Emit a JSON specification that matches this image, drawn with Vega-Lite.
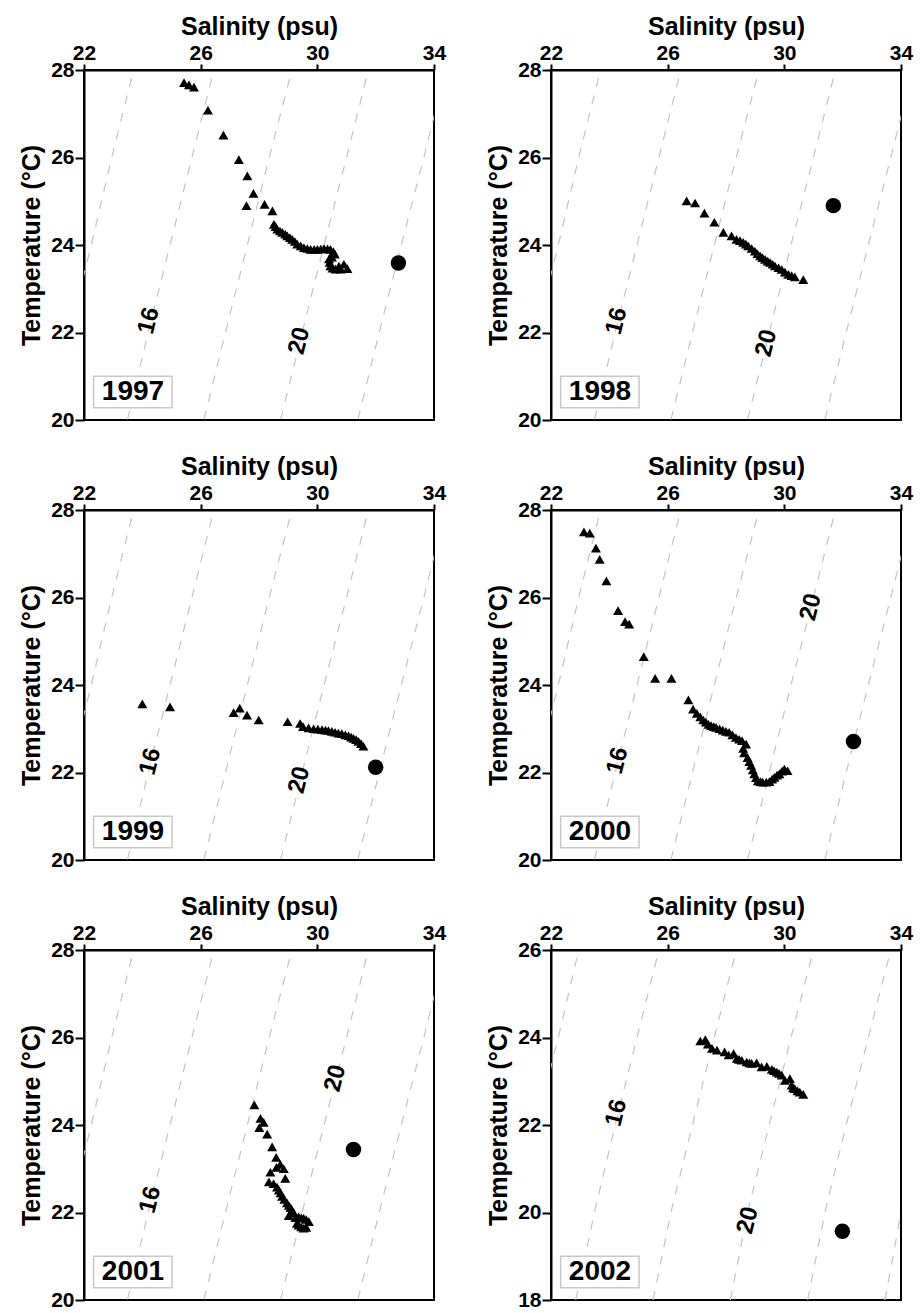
{
  "$schema": "https://vega.github.io/schema/vega-lite/v6.json",
  "padding": {"left": 18, "top": 13, "right": 0, "bottom": 0},
  "background": "white",
  "columns": 2,
  "spacing": {"row": 22, "column": 38},
  "config": {
    "font": "Liberation Sans",
    "view": {"stroke": "black", "strokeWidth": 2},
    "axis": {
      "grid": false, "domainColor": "black", "domainWidth": 2,
      "tickColor": "black", "tickWidth": 2,
      "labelColor": "black", "titleColor": "black",
      "labelFont": "Liberation Sans", "titleFont": "Liberation Sans",
      "labelFontWeight": "bold", "titleFontWeight": "bold",
      "labelFontSize": 21, "titleFontSize": 25,
      "labelFlush": false, "labelOverlap": false
    },
    "axisX": {"tickSize": 6, "labelPadding": 1, "titlePadding": 3},
    "axisY": {"tickSize": 9, "labelPadding": 1, "titlePadding": 6}
  },
  "datasets": {
    "iso": [
      {"sigma": 14, "S": 20.2, "T": 18}, {"sigma": 14, "S": 20.8, "T": 20}, {"sigma": 14, "S": 21.5, "T": 22}, {"sigma": 14, "S": 22.25, "T": 24}, {"sigma": 14, "S": 22.95, "T": 26}, {"sigma": 14, "S": 23.7, "T": 28},
      {"sigma": 16, "S": 22.85, "T": 18}, {"sigma": 16, "S": 23.49, "T": 20}, {"sigma": 16, "S": 24.2, "T": 22}, {"sigma": 16, "S": 24.95, "T": 24}, {"sigma": 16, "S": 25.7, "T": 26}, {"sigma": 16, "S": 26.45, "T": 28},
      {"sigma": 18, "S": 25.5, "T": 18}, {"sigma": 18, "S": 26.11, "T": 20}, {"sigma": 18, "S": 26.85, "T": 22}, {"sigma": 18, "S": 27.6, "T": 24}, {"sigma": 18, "S": 28.35, "T": 26}, {"sigma": 18, "S": 29.13, "T": 28},
      {"sigma": 20, "S": 28.15, "T": 18}, {"sigma": 20, "S": 28.74, "T": 20}, {"sigma": 20, "S": 29.48, "T": 22}, {"sigma": 20, "S": 30.23, "T": 24}, {"sigma": 20, "S": 31.0, "T": 26}, {"sigma": 20, "S": 31.75, "T": 28},
      {"sigma": 22, "S": 30.8, "T": 18}, {"sigma": 22, "S": 31.39, "T": 20}, {"sigma": 22, "S": 32.12, "T": 22}, {"sigma": 22, "S": 32.88, "T": 24}, {"sigma": 22, "S": 33.65, "T": 26}, {"sigma": 22, "S": 34.4, "T": 28},
      {"sigma": 24, "S": 33.45, "T": 18}, {"sigma": 24, "S": 34.0, "T": 20}, {"sigma": 24, "S": 34.75, "T": 22}
    ],
    "lab": [
      {"year": 1997, "label": "16", "S": 24.23, "T": 22.27}, {"year": 1997, "label": "20", "S": 29.39, "T": 21.81},
      {"year": 1998, "label": "16", "S": 24.25, "T": 22.26}, {"year": 1998, "label": "20", "S": 29.39, "T": 21.76},
      {"year": 1999, "label": "16", "S": 24.28, "T": 22.25}, {"year": 1999, "label": "20", "S": 29.39, "T": 21.83},
      {"year": 2000, "label": "16", "S": 24.29, "T": 22.27}, {"year": 2000, "label": "20", "S": 30.91, "T": 25.78},
      {"year": 2001, "label": "16", "S": 24.28, "T": 22.29}, {"year": 2001, "label": "20", "S": 30.62, "T": 25.07},
      {"year": 2002, "label": "16", "S": 24.24, "T": 22.28}, {"year": 2002, "label": "20", "S": 28.75, "T": 19.82}
    ],
    "ts": [
      {"year": 1997, "kind": "tri", "S": 25.43, "T": 27.71}, {"year": 1997, "kind": "tri", "S": 25.6, "T": 27.66}, {"year": 1997, "kind": "tri", "S": 25.77, "T": 27.61},
      {"year": 1997, "kind": "tri", "S": 26.25, "T": 27.08}, {"year": 1997, "kind": "tri", "S": 26.78, "T": 26.51}, {"year": 1997, "kind": "tri", "S": 27.31, "T": 25.95},
      {"year": 1997, "kind": "tri", "S": 27.6, "T": 25.58}, {"year": 1997, "kind": "tri", "S": 27.81, "T": 25.18}, {"year": 1997, "kind": "tri", "S": 27.57, "T": 24.9},
      {"year": 1997, "kind": "tri", "S": 28.19, "T": 24.93}, {"year": 1997, "kind": "tri", "S": 28.46, "T": 24.78}, {"year": 1997, "kind": "tri", "S": 28.51, "T": 24.47},
      {"year": 1997, "kind": "tri", "S": 28.57, "T": 24.42}, {"year": 1997, "kind": "tri", "S": 28.63, "T": 24.36}, {"year": 1997, "kind": "tri", "S": 28.72, "T": 24.32},
      {"year": 1997, "kind": "tri", "S": 28.8, "T": 24.29}, {"year": 1997, "kind": "tri", "S": 28.9, "T": 24.25}, {"year": 1997, "kind": "tri", "S": 28.97, "T": 24.21},
      {"year": 1997, "kind": "tri", "S": 29.06, "T": 24.17}, {"year": 1997, "kind": "tri", "S": 29.14, "T": 24.13}, {"year": 1997, "kind": "tri", "S": 29.23, "T": 24.08},
      {"year": 1997, "kind": "tri", "S": 29.31, "T": 24.02}, {"year": 1997, "kind": "tri", "S": 29.43, "T": 23.98}, {"year": 1997, "kind": "tri", "S": 29.54, "T": 23.94},
      {"year": 1997, "kind": "tri", "S": 29.66, "T": 23.92}, {"year": 1997, "kind": "tri", "S": 29.77, "T": 23.9}, {"year": 1997, "kind": "tri", "S": 29.89, "T": 23.9},
      {"year": 1997, "kind": "tri", "S": 30.0, "T": 23.9}, {"year": 1997, "kind": "tri", "S": 30.12, "T": 23.91}, {"year": 1997, "kind": "tri", "S": 30.23, "T": 23.92},
      {"year": 1997, "kind": "tri", "S": 30.35, "T": 23.91}, {"year": 1997, "kind": "tri", "S": 30.45, "T": 23.9}, {"year": 1997, "kind": "tri", "S": 30.55, "T": 23.85},
      {"year": 1997, "kind": "tri", "S": 30.6, "T": 23.79}, {"year": 1997, "kind": "tri", "S": 30.5, "T": 23.72}, {"year": 1997, "kind": "tri", "S": 30.4, "T": 23.68},
      {"year": 1997, "kind": "tri", "S": 30.42, "T": 23.6}, {"year": 1997, "kind": "tri", "S": 30.45, "T": 23.52}, {"year": 1997, "kind": "tri", "S": 30.52, "T": 23.47},
      {"year": 1997, "kind": "tri", "S": 30.62, "T": 23.45}, {"year": 1997, "kind": "tri", "S": 30.74, "T": 23.52}, {"year": 1997, "kind": "tri", "S": 30.8, "T": 23.45},
      {"year": 1997, "kind": "tri", "S": 30.91, "T": 23.56}, {"year": 1997, "kind": "tri", "S": 31.03, "T": 23.46},
      {"year": 1997, "kind": "circle", "S": 32.78, "T": 23.59},

      {"year": 1998, "kind": "tri", "S": 26.65, "T": 25.01}, {"year": 1998, "kind": "tri", "S": 26.94, "T": 24.96}, {"year": 1998, "kind": "tri", "S": 27.26, "T": 24.73},
      {"year": 1998, "kind": "tri", "S": 27.6, "T": 24.52}, {"year": 1998, "kind": "tri", "S": 27.91, "T": 24.29}, {"year": 1998, "kind": "tri", "S": 28.19, "T": 24.21},
      {"year": 1998, "kind": "tri", "S": 28.36, "T": 24.13}, {"year": 1998, "kind": "tri", "S": 28.48, "T": 24.1}, {"year": 1998, "kind": "tri", "S": 28.59, "T": 24.06},
      {"year": 1998, "kind": "tri", "S": 28.68, "T": 24.02}, {"year": 1998, "kind": "tri", "S": 28.76, "T": 23.98}, {"year": 1998, "kind": "tri", "S": 28.88, "T": 23.92},
      {"year": 1998, "kind": "tri", "S": 28.99, "T": 23.86}, {"year": 1998, "kind": "tri", "S": 29.08, "T": 23.8}, {"year": 1998, "kind": "tri", "S": 29.17, "T": 23.75},
      {"year": 1998, "kind": "tri", "S": 29.25, "T": 23.71}, {"year": 1998, "kind": "tri", "S": 29.34, "T": 23.67}, {"year": 1998, "kind": "tri", "S": 29.43, "T": 23.63},
      {"year": 1998, "kind": "tri", "S": 29.51, "T": 23.6}, {"year": 1998, "kind": "tri", "S": 29.6, "T": 23.56}, {"year": 1998, "kind": "tri", "S": 29.68, "T": 23.52},
      {"year": 1998, "kind": "tri", "S": 29.8, "T": 23.48}, {"year": 1998, "kind": "tri", "S": 29.91, "T": 23.44}, {"year": 1998, "kind": "tri", "S": 30.02, "T": 23.38},
      {"year": 1998, "kind": "tri", "S": 30.14, "T": 23.33}, {"year": 1998, "kind": "tri", "S": 30.25, "T": 23.3}, {"year": 1998, "kind": "tri", "S": 30.36, "T": 23.27},
      {"year": 1998, "kind": "tri", "S": 30.65, "T": 23.21},
      {"year": 1998, "kind": "circle", "S": 31.68, "T": 24.9},

      {"year": 1999, "kind": "tri", "S": 24.0, "T": 23.57}, {"year": 1999, "kind": "tri", "S": 24.95, "T": 23.5}, {"year": 1999, "kind": "tri", "S": 27.13, "T": 23.37},
      {"year": 1999, "kind": "tri", "S": 27.34, "T": 23.47}, {"year": 1999, "kind": "tri", "S": 27.59, "T": 23.31}, {"year": 1999, "kind": "tri", "S": 27.99, "T": 23.2},
      {"year": 1999, "kind": "tri", "S": 28.98, "T": 23.16}, {"year": 1999, "kind": "tri", "S": 29.41, "T": 23.12}, {"year": 1999, "kind": "tri", "S": 29.51, "T": 23.05},
      {"year": 1999, "kind": "tri", "S": 29.7, "T": 23.02}, {"year": 1999, "kind": "tri", "S": 29.87, "T": 23.0}, {"year": 1999, "kind": "tri", "S": 30.02, "T": 22.99},
      {"year": 1999, "kind": "tri", "S": 30.16, "T": 22.98}, {"year": 1999, "kind": "tri", "S": 30.28, "T": 22.97}, {"year": 1999, "kind": "tri", "S": 30.38, "T": 22.96},
      {"year": 1999, "kind": "tri", "S": 30.5, "T": 22.94}, {"year": 1999, "kind": "tri", "S": 30.61, "T": 22.92}, {"year": 1999, "kind": "tri", "S": 30.72, "T": 22.9},
      {"year": 1999, "kind": "tri", "S": 30.84, "T": 22.89}, {"year": 1999, "kind": "tri", "S": 30.96, "T": 22.86}, {"year": 1999, "kind": "tri", "S": 31.07, "T": 22.84},
      {"year": 1999, "kind": "tri", "S": 31.16, "T": 22.81}, {"year": 1999, "kind": "tri", "S": 31.24, "T": 22.78}, {"year": 1999, "kind": "tri", "S": 31.33, "T": 22.75},
      {"year": 1999, "kind": "tri", "S": 31.41, "T": 22.71}, {"year": 1999, "kind": "tri", "S": 31.5, "T": 22.66}, {"year": 1999, "kind": "tri", "S": 31.58, "T": 22.6},
      {"year": 1999, "kind": "circle", "S": 32.0, "T": 22.12},

      {"year": 2000, "kind": "tri", "S": 23.13, "T": 27.5}, {"year": 2000, "kind": "tri", "S": 23.33, "T": 27.47}, {"year": 2000, "kind": "tri", "S": 23.54, "T": 27.13},
      {"year": 2000, "kind": "tri", "S": 23.67, "T": 26.87}, {"year": 2000, "kind": "tri", "S": 23.9, "T": 26.38}, {"year": 2000, "kind": "tri", "S": 24.3, "T": 25.7},
      {"year": 2000, "kind": "tri", "S": 24.54, "T": 25.45}, {"year": 2000, "kind": "tri", "S": 24.68, "T": 25.39}, {"year": 2000, "kind": "tri", "S": 25.18, "T": 24.65},
      {"year": 2000, "kind": "tri", "S": 25.57, "T": 24.15}, {"year": 2000, "kind": "tri", "S": 26.13, "T": 24.15}, {"year": 2000, "kind": "tri", "S": 26.71, "T": 23.66},
      {"year": 2000, "kind": "tri", "S": 26.87, "T": 23.45}, {"year": 2000, "kind": "tri", "S": 27.0, "T": 23.35}, {"year": 2000, "kind": "tri", "S": 27.12, "T": 23.27},
      {"year": 2000, "kind": "tri", "S": 27.22, "T": 23.2}, {"year": 2000, "kind": "tri", "S": 27.31, "T": 23.15}, {"year": 2000, "kind": "tri", "S": 27.4, "T": 23.1},
      {"year": 2000, "kind": "tri", "S": 27.49, "T": 23.07}, {"year": 2000, "kind": "tri", "S": 27.58, "T": 23.05}, {"year": 2000, "kind": "tri", "S": 27.66, "T": 23.03},
      {"year": 2000, "kind": "tri", "S": 27.78, "T": 23.0}, {"year": 2000, "kind": "tri", "S": 27.89, "T": 22.97}, {"year": 2000, "kind": "tri", "S": 28.0, "T": 22.94},
      {"year": 2000, "kind": "tri", "S": 28.11, "T": 22.92}, {"year": 2000, "kind": "tri", "S": 28.22, "T": 22.86}, {"year": 2000, "kind": "tri", "S": 28.34, "T": 22.8},
      {"year": 2000, "kind": "tri", "S": 28.45, "T": 22.76}, {"year": 2000, "kind": "tri", "S": 28.55, "T": 22.73}, {"year": 2000, "kind": "tri", "S": 28.69, "T": 22.65},
      {"year": 2000, "kind": "tri", "S": 28.59, "T": 22.55}, {"year": 2000, "kind": "tri", "S": 28.62, "T": 22.45}, {"year": 2000, "kind": "tri", "S": 28.74, "T": 22.34},
      {"year": 2000, "kind": "tri", "S": 28.8, "T": 22.25}, {"year": 2000, "kind": "tri", "S": 28.86, "T": 22.16}, {"year": 2000, "kind": "tri", "S": 28.92, "T": 22.06},
      {"year": 2000, "kind": "tri", "S": 28.97, "T": 21.97}, {"year": 2000, "kind": "tri", "S": 29.03, "T": 21.88}, {"year": 2000, "kind": "tri", "S": 29.09, "T": 21.81},
      {"year": 2000, "kind": "tri", "S": 29.18, "T": 21.79}, {"year": 2000, "kind": "tri", "S": 29.26, "T": 21.78}, {"year": 2000, "kind": "tri", "S": 29.38, "T": 21.78},
      {"year": 2000, "kind": "tri", "S": 29.49, "T": 21.79}, {"year": 2000, "kind": "tri", "S": 29.58, "T": 21.85}, {"year": 2000, "kind": "tri", "S": 29.66, "T": 21.89},
      {"year": 2000, "kind": "tri", "S": 29.75, "T": 21.94}, {"year": 2000, "kind": "tri", "S": 29.83, "T": 21.97}, {"year": 2000, "kind": "tri", "S": 29.92, "T": 22.03},
      {"year": 2000, "kind": "tri", "S": 30.0, "T": 22.08}, {"year": 2000, "kind": "tri", "S": 30.11, "T": 22.04},
      {"year": 2000, "kind": "circle", "S": 32.37, "T": 22.71},

      {"year": 2001, "kind": "tri", "S": 27.84, "T": 24.46}, {"year": 2001, "kind": "tri", "S": 28.05, "T": 24.15}, {"year": 2001, "kind": "tri", "S": 28.16, "T": 24.06},
      {"year": 2001, "kind": "tri", "S": 28.01, "T": 23.94}, {"year": 2001, "kind": "tri", "S": 28.28, "T": 23.79}, {"year": 2001, "kind": "tri", "S": 28.45, "T": 23.5},
      {"year": 2001, "kind": "tri", "S": 28.59, "T": 23.26}, {"year": 2001, "kind": "tri", "S": 28.73, "T": 23.1}, {"year": 2001, "kind": "tri", "S": 28.6, "T": 23.03},
      {"year": 2001, "kind": "tri", "S": 28.39, "T": 22.92}, {"year": 2001, "kind": "tri", "S": 28.85, "T": 23.0}, {"year": 2001, "kind": "tri", "S": 28.9, "T": 22.78},
      {"year": 2001, "kind": "tri", "S": 28.34, "T": 22.7}, {"year": 2001, "kind": "tri", "S": 28.5, "T": 22.66}, {"year": 2001, "kind": "tri", "S": 28.62, "T": 22.58},
      {"year": 2001, "kind": "tri", "S": 28.68, "T": 22.51}, {"year": 2001, "kind": "tri", "S": 28.74, "T": 22.45}, {"year": 2001, "kind": "tri", "S": 28.79, "T": 22.37},
      {"year": 2001, "kind": "tri", "S": 28.87, "T": 22.3}, {"year": 2001, "kind": "tri", "S": 28.96, "T": 22.22}, {"year": 2001, "kind": "tri", "S": 29.02, "T": 22.16},
      {"year": 2001, "kind": "tri", "S": 29.08, "T": 22.11}, {"year": 2001, "kind": "tri", "S": 29.14, "T": 22.05}, {"year": 2001, "kind": "tri", "S": 29.19, "T": 21.99},
      {"year": 2001, "kind": "tri", "S": 29.02, "T": 21.93}, {"year": 2001, "kind": "tri", "S": 29.25, "T": 21.88}, {"year": 2001, "kind": "tri", "S": 29.36, "T": 21.9},
      {"year": 2001, "kind": "tri", "S": 29.45, "T": 21.88}, {"year": 2001, "kind": "tri", "S": 29.53, "T": 21.87}, {"year": 2001, "kind": "tri", "S": 29.62, "T": 21.84},
      {"year": 2001, "kind": "tri", "S": 29.71, "T": 21.79}, {"year": 2001, "kind": "tri", "S": 29.3, "T": 21.75}, {"year": 2001, "kind": "tri", "S": 29.36, "T": 21.71},
      {"year": 2001, "kind": "tri", "S": 29.45, "T": 21.67}, {"year": 2001, "kind": "tri", "S": 29.53, "T": 21.64}, {"year": 2001, "kind": "tri", "S": 29.62, "T": 21.66},
      {"year": 2001, "kind": "circle", "S": 31.24, "T": 23.44},

      {"year": 2002, "kind": "tri", "S": 27.12, "T": 23.92}, {"year": 2002, "kind": "tri", "S": 27.29, "T": 23.95}, {"year": 2002, "kind": "tri", "S": 27.38, "T": 23.85},
      {"year": 2002, "kind": "tri", "S": 27.52, "T": 23.75}, {"year": 2002, "kind": "tri", "S": 27.69, "T": 23.71}, {"year": 2002, "kind": "tri", "S": 27.95, "T": 23.67},
      {"year": 2002, "kind": "tri", "S": 28.09, "T": 23.6}, {"year": 2002, "kind": "tri", "S": 28.26, "T": 23.63}, {"year": 2002, "kind": "tri", "S": 28.37, "T": 23.52},
      {"year": 2002, "kind": "tri", "S": 28.45, "T": 23.5}, {"year": 2002, "kind": "tri", "S": 28.54, "T": 23.48}, {"year": 2002, "kind": "tri", "S": 28.71, "T": 23.44},
      {"year": 2002, "kind": "tri", "S": 28.8, "T": 23.42}, {"year": 2002, "kind": "tri", "S": 28.88, "T": 23.41}, {"year": 2002, "kind": "tri", "S": 29.05, "T": 23.42},
      {"year": 2002, "kind": "tri", "S": 29.22, "T": 23.33}, {"year": 2002, "kind": "tri", "S": 29.4, "T": 23.34}, {"year": 2002, "kind": "tri", "S": 29.57, "T": 23.27},
      {"year": 2002, "kind": "tri", "S": 29.65, "T": 23.24}, {"year": 2002, "kind": "tri", "S": 29.74, "T": 23.21}, {"year": 2002, "kind": "tri", "S": 29.82, "T": 23.18},
      {"year": 2002, "kind": "tri", "S": 29.91, "T": 23.14}, {"year": 2002, "kind": "tri", "S": 30.02, "T": 23.02}, {"year": 2002, "kind": "tri", "S": 30.19, "T": 23.06},
      {"year": 2002, "kind": "tri", "S": 30.25, "T": 22.91}, {"year": 2002, "kind": "tri", "S": 30.3, "T": 22.85}, {"year": 2002, "kind": "tri", "S": 30.36, "T": 22.83},
      {"year": 2002, "kind": "tri", "S": 30.45, "T": 22.78}, {"year": 2002, "kind": "tri", "S": 30.53, "T": 22.75}, {"year": 2002, "kind": "tri", "S": 30.65, "T": 22.7},
      {"year": 2002, "kind": "circle", "S": 31.99, "T": 19.57}
    ]
  },
  "concat": [
    {
      "width": 350, "height": 350,
      "layer": [
        {
          "encoding": {
            "x": {"field": "S", "type": "quantitative", "scale": {"domain": [22, 34], "nice": false, "zero": false}, "axis": {"orient": "top", "title": "Salinity (psu)", "values": [22, 26, 30, 34]}},
            "y": {"field": "T", "type": "quantitative", "scale": {"domain": [20, 28], "nice": false, "zero": false}, "axis": {"title": "Temperature (°C)", "values": [20, 22, 24, 26, 28]}}
          },
          "layer": [
            {"data": {"name": "iso"}, "mark": {"type": "line", "clip": true, "color": "#c4c4c4", "strokeWidth": 1.2, "strokeDash": [9, 9]}, "encoding": {"detail": {"field": "sigma", "type": "nominal"}, "order": {"field": "T", "type": "quantitative"}}},
            {"data": {"name": "lab"}, "transform": [{"filter": "datum.year == 1997"}], "mark": {"type": "text", "angle": -76, "fontSize": 24, "fontWeight": "bold", "color": "black"}, "encoding": {"text": {"field": "label", "type": "nominal"}}},
            {"data": {"name": "ts"}, "transform": [{"filter": "datum.year == 1997 && datum.kind == 'tri'"}], "mark": {"type": "point", "shape": "triangle-up", "filled": true, "color": "black", "opacity": 1, "size": 100}},
            {"data": {"name": "ts"}, "transform": [{"filter": "datum.year == 1997 && datum.kind == 'circle'"}], "mark": {"type": "circle", "color": "black", "opacity": 1, "size": 240}}
          ]
        },
        {"data": {"values": [{"year": "1997"}]}, "mark": {"type": "rect", "fill": "white", "stroke": "#c8c8c8", "strokeWidth": 1.5}, "encoding": {"x": {"datum": 22.33, "type": "quantitative"}, "x2": {"datum": 25.02}, "y": {"datum": 21.0, "type": "quantitative"}, "y2": {"datum": 20.28}}},
        {"data": {"values": [{"year": "1997"}]}, "mark": {"type": "text", "fontSize": 28, "fontWeight": "bold", "color": "black", "baseline": "middle"}, "encoding": {"x": {"datum": 23.68, "type": "quantitative"}, "y": {"datum": 20.64, "type": "quantitative"}, "text": {"field": "year", "type": "nominal"}}}
      ]
    },
    {
      "width": 350, "height": 350,
      "layer": [
        {
          "encoding": {
            "x": {"field": "S", "type": "quantitative", "scale": {"domain": [22, 34], "nice": false, "zero": false}, "axis": {"orient": "top", "title": "Salinity (psu)", "values": [22, 26, 30, 34]}},
            "y": {"field": "T", "type": "quantitative", "scale": {"domain": [20, 28], "nice": false, "zero": false}, "axis": {"title": "Temperature (°C)", "values": [20, 22, 24, 26, 28]}}
          },
          "layer": [
            {"data": {"name": "iso"}, "mark": {"type": "line", "clip": true, "color": "#c4c4c4", "strokeWidth": 1.2, "strokeDash": [9, 9]}, "encoding": {"detail": {"field": "sigma", "type": "nominal"}, "order": {"field": "T", "type": "quantitative"}}},
            {"data": {"name": "lab"}, "transform": [{"filter": "datum.year == 1998"}], "mark": {"type": "text", "angle": -76, "fontSize": 24, "fontWeight": "bold", "color": "black"}, "encoding": {"text": {"field": "label", "type": "nominal"}}},
            {"data": {"name": "ts"}, "transform": [{"filter": "datum.year == 1998 && datum.kind == 'tri'"}], "mark": {"type": "point", "shape": "triangle-up", "filled": true, "color": "black", "opacity": 1, "size": 100}},
            {"data": {"name": "ts"}, "transform": [{"filter": "datum.year == 1998 && datum.kind == 'circle'"}], "mark": {"type": "circle", "color": "black", "opacity": 1, "size": 240}}
          ]
        },
        {"data": {"values": [{"year": "1998"}]}, "mark": {"type": "rect", "fill": "white", "stroke": "#c8c8c8", "strokeWidth": 1.5}, "encoding": {"x": {"datum": 22.33, "type": "quantitative"}, "x2": {"datum": 25.02}, "y": {"datum": 21.0, "type": "quantitative"}, "y2": {"datum": 20.28}}},
        {"data": {"values": [{"year": "1998"}]}, "mark": {"type": "text", "fontSize": 28, "fontWeight": "bold", "color": "black", "baseline": "middle"}, "encoding": {"x": {"datum": 23.68, "type": "quantitative"}, "y": {"datum": 20.64, "type": "quantitative"}, "text": {"field": "year", "type": "nominal"}}}
      ]
    },
    {
      "width": 350, "height": 350,
      "layer": [
        {
          "encoding": {
            "x": {"field": "S", "type": "quantitative", "scale": {"domain": [22, 34], "nice": false, "zero": false}, "axis": {"orient": "top", "title": "Salinity (psu)", "values": [22, 26, 30, 34]}},
            "y": {"field": "T", "type": "quantitative", "scale": {"domain": [20, 28], "nice": false, "zero": false}, "axis": {"title": "Temperature (°C)", "values": [20, 22, 24, 26, 28]}}
          },
          "layer": [
            {"data": {"name": "iso"}, "mark": {"type": "line", "clip": true, "color": "#c4c4c4", "strokeWidth": 1.2, "strokeDash": [9, 9]}, "encoding": {"detail": {"field": "sigma", "type": "nominal"}, "order": {"field": "T", "type": "quantitative"}}},
            {"data": {"name": "lab"}, "transform": [{"filter": "datum.year == 1999"}], "mark": {"type": "text", "angle": -76, "fontSize": 24, "fontWeight": "bold", "color": "black"}, "encoding": {"text": {"field": "label", "type": "nominal"}}},
            {"data": {"name": "ts"}, "transform": [{"filter": "datum.year == 1999 && datum.kind == 'tri'"}], "mark": {"type": "point", "shape": "triangle-up", "filled": true, "color": "black", "opacity": 1, "size": 100}},
            {"data": {"name": "ts"}, "transform": [{"filter": "datum.year == 1999 && datum.kind == 'circle'"}], "mark": {"type": "circle", "color": "black", "opacity": 1, "size": 240}}
          ]
        },
        {"data": {"values": [{"year": "1999"}]}, "mark": {"type": "rect", "fill": "white", "stroke": "#c8c8c8", "strokeWidth": 1.5}, "encoding": {"x": {"datum": 22.33, "type": "quantitative"}, "x2": {"datum": 25.02}, "y": {"datum": 21.0, "type": "quantitative"}, "y2": {"datum": 20.28}}},
        {"data": {"values": [{"year": "1999"}]}, "mark": {"type": "text", "fontSize": 28, "fontWeight": "bold", "color": "black", "baseline": "middle"}, "encoding": {"x": {"datum": 23.68, "type": "quantitative"}, "y": {"datum": 20.64, "type": "quantitative"}, "text": {"field": "year", "type": "nominal"}}}
      ]
    },
    {
      "width": 350, "height": 350,
      "layer": [
        {
          "encoding": {
            "x": {"field": "S", "type": "quantitative", "scale": {"domain": [22, 34], "nice": false, "zero": false}, "axis": {"orient": "top", "title": "Salinity (psu)", "values": [22, 26, 30, 34]}},
            "y": {"field": "T", "type": "quantitative", "scale": {"domain": [20, 28], "nice": false, "zero": false}, "axis": {"title": "Temperature (°C)", "values": [20, 22, 24, 26, 28]}}
          },
          "layer": [
            {"data": {"name": "iso"}, "mark": {"type": "line", "clip": true, "color": "#c4c4c4", "strokeWidth": 1.2, "strokeDash": [9, 9]}, "encoding": {"detail": {"field": "sigma", "type": "nominal"}, "order": {"field": "T", "type": "quantitative"}}},
            {"data": {"name": "lab"}, "transform": [{"filter": "datum.year == 2000"}], "mark": {"type": "text", "angle": -76, "fontSize": 24, "fontWeight": "bold", "color": "black"}, "encoding": {"text": {"field": "label", "type": "nominal"}}},
            {"data": {"name": "ts"}, "transform": [{"filter": "datum.year == 2000 && datum.kind == 'tri'"}], "mark": {"type": "point", "shape": "triangle-up", "filled": true, "color": "black", "opacity": 1, "size": 100}},
            {"data": {"name": "ts"}, "transform": [{"filter": "datum.year == 2000 && datum.kind == 'circle'"}], "mark": {"type": "circle", "color": "black", "opacity": 1, "size": 240}}
          ]
        },
        {"data": {"values": [{"year": "2000"}]}, "mark": {"type": "rect", "fill": "white", "stroke": "#c8c8c8", "strokeWidth": 1.5}, "encoding": {"x": {"datum": 22.33, "type": "quantitative"}, "x2": {"datum": 25.02}, "y": {"datum": 21.0, "type": "quantitative"}, "y2": {"datum": 20.28}}},
        {"data": {"values": [{"year": "2000"}]}, "mark": {"type": "text", "fontSize": 28, "fontWeight": "bold", "color": "black", "baseline": "middle"}, "encoding": {"x": {"datum": 23.68, "type": "quantitative"}, "y": {"datum": 20.64, "type": "quantitative"}, "text": {"field": "year", "type": "nominal"}}}
      ]
    },
    {
      "width": 350, "height": 350,
      "layer": [
        {
          "encoding": {
            "x": {"field": "S", "type": "quantitative", "scale": {"domain": [22, 34], "nice": false, "zero": false}, "axis": {"orient": "top", "title": "Salinity (psu)", "values": [22, 26, 30, 34]}},
            "y": {"field": "T", "type": "quantitative", "scale": {"domain": [20, 28], "nice": false, "zero": false}, "axis": {"title": "Temperature (°C)", "values": [20, 22, 24, 26, 28]}}
          },
          "layer": [
            {"data": {"name": "iso"}, "mark": {"type": "line", "clip": true, "color": "#c4c4c4", "strokeWidth": 1.2, "strokeDash": [9, 9]}, "encoding": {"detail": {"field": "sigma", "type": "nominal"}, "order": {"field": "T", "type": "quantitative"}}},
            {"data": {"name": "lab"}, "transform": [{"filter": "datum.year == 2001"}], "mark": {"type": "text", "angle": -76, "fontSize": 24, "fontWeight": "bold", "color": "black"}, "encoding": {"text": {"field": "label", "type": "nominal"}}},
            {"data": {"name": "ts"}, "transform": [{"filter": "datum.year == 2001 && datum.kind == 'tri'"}], "mark": {"type": "point", "shape": "triangle-up", "filled": true, "color": "black", "opacity": 1, "size": 100}},
            {"data": {"name": "ts"}, "transform": [{"filter": "datum.year == 2001 && datum.kind == 'circle'"}], "mark": {"type": "circle", "color": "black", "opacity": 1, "size": 240}}
          ]
        },
        {"data": {"values": [{"year": "2001"}]}, "mark": {"type": "rect", "fill": "white", "stroke": "#c8c8c8", "strokeWidth": 1.5}, "encoding": {"x": {"datum": 22.33, "type": "quantitative"}, "x2": {"datum": 25.02}, "y": {"datum": 21.0, "type": "quantitative"}, "y2": {"datum": 20.28}}},
        {"data": {"values": [{"year": "2001"}]}, "mark": {"type": "text", "fontSize": 28, "fontWeight": "bold", "color": "black", "baseline": "middle"}, "encoding": {"x": {"datum": 23.68, "type": "quantitative"}, "y": {"datum": 20.64, "type": "quantitative"}, "text": {"field": "year", "type": "nominal"}}}
      ]
    },
    {
      "width": 350, "height": 350,
      "layer": [
        {
          "encoding": {
            "x": {"field": "S", "type": "quantitative", "scale": {"domain": [22, 34], "nice": false, "zero": false}, "axis": {"orient": "top", "title": "Salinity (psu)", "values": [22, 26, 30, 34]}},
            "y": {"field": "T", "type": "quantitative", "scale": {"domain": [18, 26], "nice": false, "zero": false}, "axis": {"title": "Temperature (°C)", "values": [18, 20, 22, 24, 26]}}
          },
          "layer": [
            {"data": {"name": "iso"}, "mark": {"type": "line", "clip": true, "color": "#c4c4c4", "strokeWidth": 1.2, "strokeDash": [9, 9]}, "encoding": {"detail": {"field": "sigma", "type": "nominal"}, "order": {"field": "T", "type": "quantitative"}}},
            {"data": {"name": "lab"}, "transform": [{"filter": "datum.year == 2002"}], "mark": {"type": "text", "angle": -76, "fontSize": 24, "fontWeight": "bold", "color": "black"}, "encoding": {"text": {"field": "label", "type": "nominal"}}},
            {"data": {"name": "ts"}, "transform": [{"filter": "datum.year == 2002 && datum.kind == 'tri'"}], "mark": {"type": "point", "shape": "triangle-up", "filled": true, "color": "black", "opacity": 1, "size": 100}},
            {"data": {"name": "ts"}, "transform": [{"filter": "datum.year == 2002 && datum.kind == 'circle'"}], "mark": {"type": "circle", "color": "black", "opacity": 1, "size": 240}}
          ]
        },
        {"data": {"values": [{"year": "2002"}]}, "mark": {"type": "rect", "fill": "white", "stroke": "#c8c8c8", "strokeWidth": 1.5}, "encoding": {"x": {"datum": 22.33, "type": "quantitative"}, "x2": {"datum": 25.02}, "y": {"datum": 19.0, "type": "quantitative"}, "y2": {"datum": 18.28}}},
        {"data": {"values": [{"year": "2002"}]}, "mark": {"type": "text", "fontSize": 28, "fontWeight": "bold", "color": "black", "baseline": "middle"}, "encoding": {"x": {"datum": 23.68, "type": "quantitative"}, "y": {"datum": 18.64, "type": "quantitative"}, "text": {"field": "year", "type": "nominal"}}}
      ]
    }
  ]
}
